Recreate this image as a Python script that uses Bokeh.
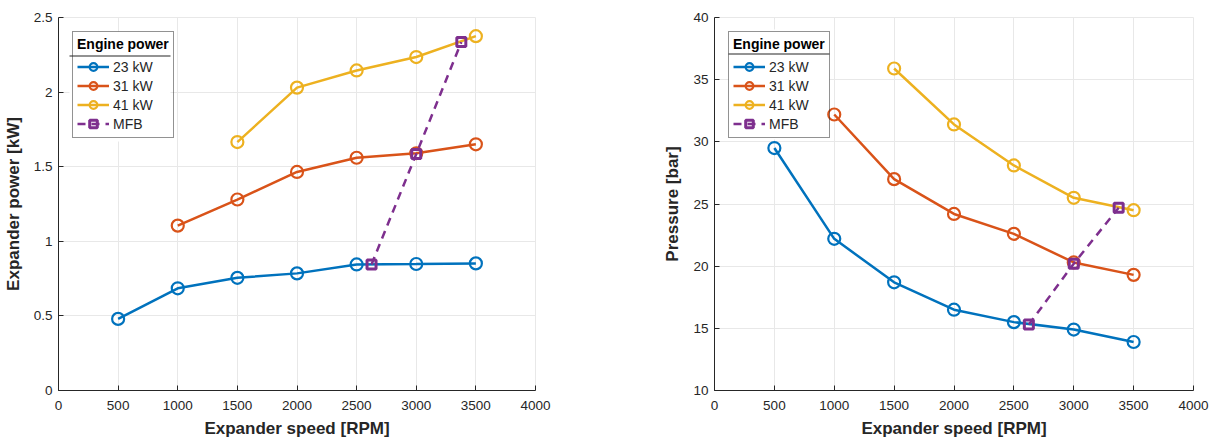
from bokeh.plotting import figure
from bokeh.layouts import row
from bokeh.models import Range1d, FixedTicker, Legend, LegendItem, BoxAnnotation
from bokeh.embed import file_html
from bokeh.resources import INLINE

# ---------------- data ----------------
speed_23 = [500, 1000, 1500, 2000, 2500, 3000, 3500]
speed_31 = [1000, 1500, 2000, 2500, 3000, 3500]
speed_41 = [1500, 2000, 2500, 3000, 3500]
mfb_speed_power = [2625, 3000, 3378]
mfb_speed_press = [2625, 3000, 3375]

power_23 = [0.48, 0.685, 0.755, 0.785, 0.845, 0.848, 0.852]
power_31 = [1.105, 1.28, 1.465, 1.56, 1.59, 1.65]
power_41 = [1.665, 2.03, 2.145, 2.235, 2.375]
power_mfb = [0.845, 1.585, 2.335]

press_23 = [29.5, 22.2, 18.7, 16.5, 15.5, 14.9, 13.9]
press_31 = [32.2, 27.0, 24.2, 22.6, 20.3, 19.3]
press_41 = [35.9, 31.4, 28.1, 25.5, 24.5]
press_mfb = [15.3, 20.2, 24.7]

series_labels = ["23 kW", "31 kW", "41 kW", "MFB"]
legend_title = "Engine power"
x_ticks = [0, 500, 1000, 1500, 2000, 2500, 3000, 3500, 4000]
y1_ticks = [0, 0.5, 1, 1.5, 2, 2.5]
y1_tick_labels = ["0", "0.5", "1", "1.5", "2", "2.5"]
y2_ticks = [10, 15, 20, 25, 30, 35, 40]
y2_tick_labels = ["10", "15", "20", "25", "30", "35", "40"]

COLORS = ["#0072BD", "#D95319", "#EDB120", "#7E2F8E"]
FONT = "Liberation Sans"
TXT = "#262626"
GRID = "#e8e8e8"


def canvas_box(l, r, t, b, color, level):
    return BoxAnnotation(left=l, right=r, top=t, bottom=b,
                         left_units="canvas", right_units="canvas",
                         top_units="canvas", bottom_units="canvas",
                         fill_color=color, fill_alpha=1, line_color=None,
                         level=level)


def make_fig(width, bl, br, bt, bb, yr, yticks, ylabels, ytitle, series, mfb, box):
    p = figure(width=width, height=440, output_backend="svg", toolbar_location=None,
               x_range=Range1d(0, 4000), y_range=Range1d(*yr),
               min_border_left=bl, min_border_right=br, min_border_top=bt,
               min_border_bottom=bb)
    p.outline_line_color = GRID
    p.background_fill_color = "white"
    p.xaxis.ticker = FixedTicker(ticks=x_ticks)
    p.yaxis.ticker = FixedTicker(ticks=yticks)
    p.yaxis.major_label_overrides = {t: l for t, l in zip(yticks, ylabels)}
    p.xaxis.major_label_overrides = {t: str(t) for t in x_ticks}
    for ax in [p.xaxis[0], p.yaxis[0]]:
        ax.axis_line_color = TXT
        ax.major_tick_line_color = TXT
        ax.major_tick_in = 5
        ax.major_tick_out = 0
        ax.minor_tick_line_color = None
        ax.major_label_text_font = FONT
        ax.major_label_text_font_size = "13.5px"
        ax.major_label_text_color = TXT
        ax.axis_label_text_font = FONT
        ax.axis_label_text_font_size = "17px"
        ax.axis_label_text_font_style = "bold"
        ax.axis_label_text_color = TXT
    p.xaxis.major_label_standoff = 10
    p.xaxis.axis_label_standoff = 6
    p.yaxis.major_label_standoff = 6
    p.yaxis.axis_label_standoff = 8
    p.xaxis.axis_label = "Expander speed [RPM]"
    p.yaxis.axis_label = ytitle
    p.grid.grid_line_color = GRID
    p.grid.grid_line_width = 1

    # legend backdrop (white, hides grid) and title separator
    bx0, bx1, by0, by1, sy = box
    p.add_layout(canvas_box(bx0, bx1, by0, by1, "white", "underlay"))
    p.add_layout(canvas_box(bx0, bx1, sy, sy + 1, TXT, "underlay"))

    items = []
    for (xs, ys), c, lab in zip(series, COLORS[:3], series_labels[:3]):
        l = p.line(xs, ys, line_color=c, line_width=2.5)
        s = p.scatter(xs, ys, marker="circle", size=12, fill_color=None,
                      line_color=c, line_width=2.2)
        items.append(LegendItem(label=lab, renderers=[l, s]))
    mx, my = mfb
    l = p.line(mx, my, line_color=COLORS[3], line_width=2.5, line_dash="8 6")
    s = p.scatter(mx, my, marker="square", size=9, fill_color=None,
                  line_color=COLORS[3], line_width=3)
    items.append(LegendItem(label=series_labels[3], renderers=[l, s]))

    leg = Legend(items=items, location="top_left", margin=14,
                 title=legend_title)
    leg.title_text_font = FONT
    leg.title_text_font_style = "bold"
    leg.title_text_font_size = "14px"
    leg.title_text_color = "black"
    leg.title_standoff = 5
    leg.label_text_font = FONT
    leg.label_text_font_size = "14px"
    leg.label_text_color = TXT
    leg.border_line_color = TXT
    leg.border_line_width = 1
    leg.padding = 4
    leg.spacing = 0
    leg.label_height = 19
    leg.glyph_height = 19
    leg.glyph_width = 32
    leg.label_standoff = 4
    leg.background_fill_alpha = 0
    p.add_layout(leg)
    return p


p1 = make_fig(612, 55, 77, 17, 47, (0, 2.5), y1_ticks, y1_tick_labels,
              "Expander power [kW]",
              [(speed_23, power_23), (speed_31, power_31), (speed_41, power_41)],
              (mfb_speed_power, power_mfb), (69, 170, 31, 141, 55))
p2 = make_fig(608, 102, 27, 15, 48, (10, 40), y2_ticks, y2_tick_labels,
              "Pressure [bar]",
              [(speed_23, press_23), (speed_31, press_31), (speed_41, press_41)],
              (mfb_speed_press, press_mfb), (116, 217, 29, 139, 53))

layout = row(p1, p2, spacing=0)
open("out.html", "w").write(file_html(layout, INLINE))
